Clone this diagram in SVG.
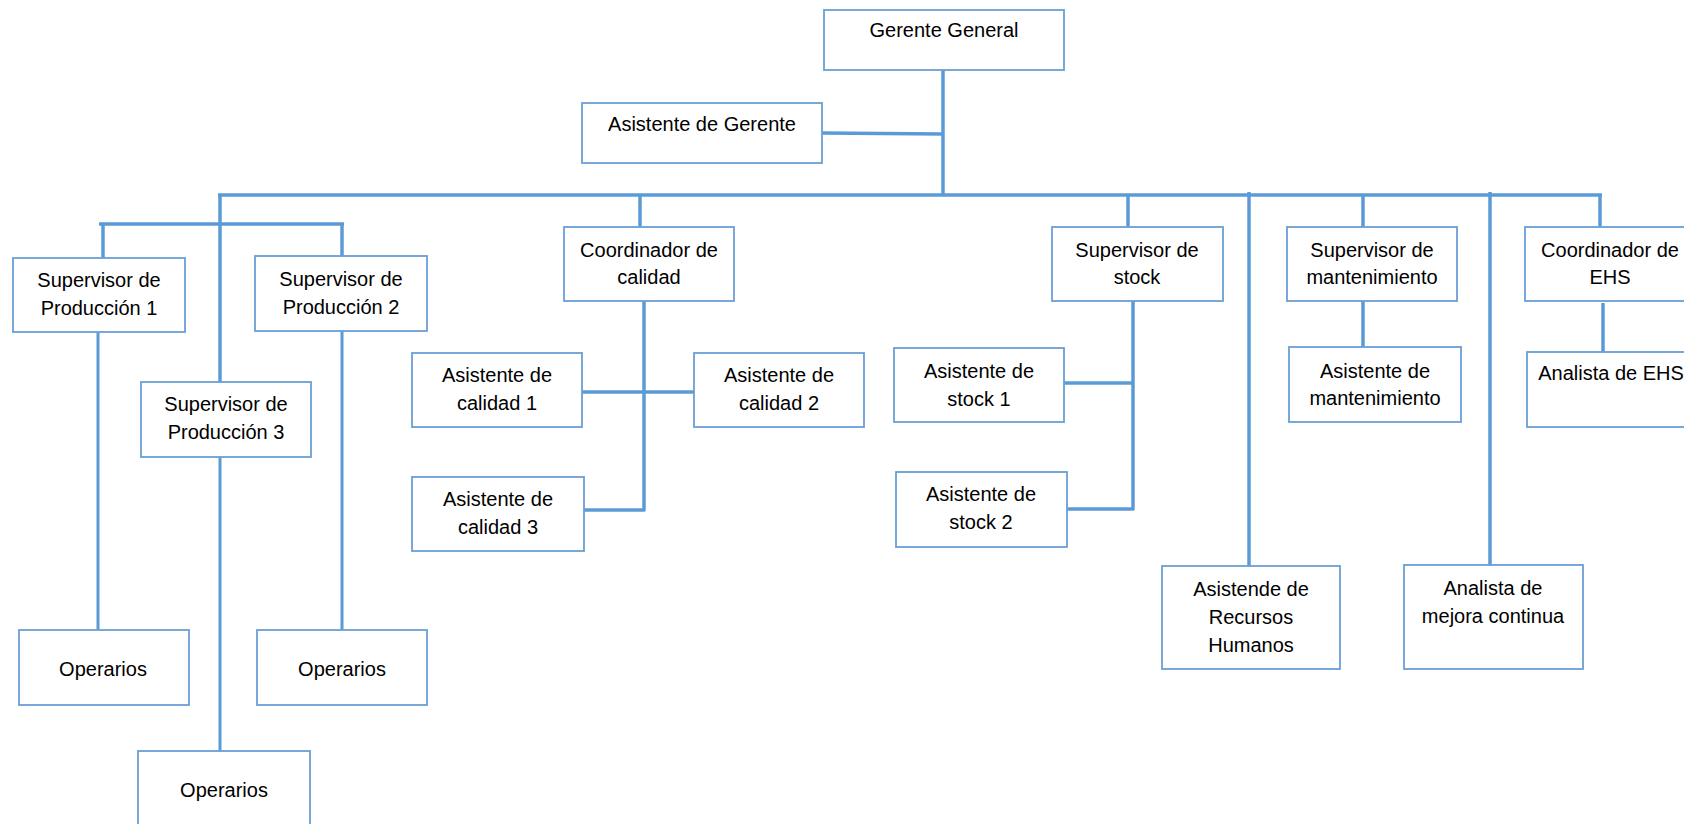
<svg xmlns="http://www.w3.org/2000/svg" width="1684" height="824" viewBox="0 0 1684 824">
<style>
.box{fill:#ffffff;stroke:#6A9FD6;stroke-width:1.8}
.t{font-family:"Liberation Sans",Arial,sans-serif;font-size:20px;fill:#000;text-anchor:middle}
.c{stroke:#5B9BD5;stroke-width:3.5;fill:none;stroke-linecap:butt}
.c2{stroke:#5B9BD5;stroke-width:3;fill:none}
</style>
<rect width="1684" height="824" fill="#ffffff"/>
<g id="connectors">
<line class="c" x1="943" y1="70" x2="943" y2="195"/>
<line class="c" x1="822" y1="133" x2="943" y2="134"/>
<line class="c" x1="218" y1="195" x2="1602" y2="195"/>
<line class="c" x1="220" y1="195" x2="220" y2="382"/>
<line class="c" x1="99" y1="224" x2="344" y2="224"/>
<line class="c" x1="103" y1="224" x2="103" y2="258"/>
<line class="c" x1="342" y1="224" x2="342" y2="256"/>
<line class="c2" x1="98" y1="332" x2="98" y2="630"/>
<line class="c2" x1="342" y1="331" x2="342" y2="630"/>
<line class="c2" x1="220" y1="457" x2="220" y2="751"/>
<line class="c" x1="640" y1="195" x2="640" y2="227"/>
<line class="c" x1="644" y1="301" x2="644" y2="511"/>
<line class="c" x1="582" y1="392" x2="694" y2="392"/>
<line class="c" x1="584" y1="510" x2="645" y2="510"/>
<line class="c" x1="1128" y1="195" x2="1128" y2="227"/>
<line class="c" x1="1133" y1="301" x2="1133" y2="510"/>
<line class="c" x1="1064" y1="383" x2="1133" y2="383"/>
<line class="c" x1="1067" y1="509" x2="1134" y2="509"/>
<line class="c" x1="1249" y1="192" x2="1249" y2="566"/>
<line class="c" x1="1363" y1="195" x2="1363" y2="227"/>
<line class="c" x1="1363" y1="301" x2="1363" y2="347"/>
<line class="c" x1="1490" y1="192" x2="1490" y2="565"/>
<line class="c" x1="1600" y1="195" x2="1600" y2="227"/>
<line class="c" x1="1603" y1="303" x2="1603" y2="352"/>
</g>
<g id="gerente-general"><rect class="box" x="824" y="10" width="240" height="60"/><text class="t" x="944" y="37">Gerente General</text></g>
<g id="asistente-gerente"><rect class="box" x="582" y="103" width="240" height="60"/><text class="t" x="702" y="131">Asistente de Gerente</text></g>
<g id="sup-prod-1"><rect class="box" x="13" y="258" width="172" height="74"/><text class="t" x="99" y="287">Supervisor de</text><text class="t" x="99" y="315">Producción 1</text></g>
<g id="sup-prod-2"><rect class="box" x="255" y="256" width="172" height="75"/><text class="t" x="341" y="286">Supervisor de</text><text class="t" x="341" y="314">Producción 2</text></g>
<g id="sup-prod-3"><rect class="box" x="141" y="382" width="170" height="75"/><text class="t" x="226" y="411">Supervisor de</text><text class="t" x="226" y="439">Producción 3</text></g>
<g id="coord-calidad"><rect class="box" x="564" y="227" width="170" height="74"/><text class="t" x="649" y="257">Coordinador de</text><text class="t" x="649" y="284">calidad</text></g>
<g id="asist-calidad-1"><rect class="box" x="412" y="353" width="170" height="74"/><text class="t" x="497" y="382">Asistente de</text><text class="t" x="497" y="410">calidad 1</text></g>
<g id="asist-calidad-2"><rect class="box" x="694" y="353" width="170" height="74"/><text class="t" x="779" y="382">Asistente de</text><text class="t" x="779" y="410">calidad 2</text></g>
<g id="asist-calidad-3"><rect class="box" x="412" y="477" width="172" height="74"/><text class="t" x="498" y="506">Asistente de</text><text class="t" x="498" y="534">calidad 3</text></g>
<g id="sup-stock"><rect class="box" x="1052" y="227" width="171" height="74"/><text class="t" x="1137" y="257">Supervisor de</text><text class="t" x="1137" y="284">stock</text></g>
<g id="asist-stock-1"><rect class="box" x="894" y="348" width="170" height="74"/><text class="t" x="979" y="378">Asistente de</text><text class="t" x="979" y="406">stock 1</text></g>
<g id="asist-stock-2"><rect class="box" x="896" y="472" width="171" height="75"/><text class="t" x="981" y="501">Asistente de</text><text class="t" x="981" y="529">stock 2</text></g>
<g id="sup-mant"><rect class="box" x="1287" y="227" width="170" height="74"/><text class="t" x="1372" y="257">Supervisor de</text><text class="t" x="1372" y="284">mantenimiento</text></g>
<g id="asist-mant"><rect class="box" x="1289" y="347" width="172" height="75"/><text class="t" x="1375" y="378">Asistente de</text><text class="t" x="1375" y="405">mantenimiento</text></g>
<g id="coord-ehs"><rect class="box" x="1525" y="227" width="171" height="74"/><text class="t" x="1610" y="257">Coordinador de</text><text class="t" x="1610" y="284">EHS</text></g>
<g id="analista-ehs"><rect class="box" x="1527" y="352" width="171" height="75"/><text class="t" x="1611" y="380">Analista de EHS</text></g>
<g id="asist-rrhh"><rect class="box" x="1162" y="566" width="178" height="103"/><text class="t" x="1251" y="596">Asistende de</text><text class="t" x="1251" y="624">Recursos</text><text class="t" x="1251" y="652">Humanos</text></g>
<g id="analista-mejora"><rect class="box" x="1404" y="565" width="179" height="104"/><text class="t" x="1493" y="595">Analista de</text><text class="t" x="1493" y="623">mejora continua</text></g>
<g id="operarios-1"><rect class="box" x="19" y="630" width="170" height="75"/><text class="t" x="103" y="676">Operarios</text></g>
<g id="operarios-2"><rect class="box" x="257" y="630" width="170" height="75"/><text class="t" x="342" y="676">Operarios</text></g>
<g id="operarios-3"><rect class="box" x="138" y="751" width="172" height="80"/><text class="t" x="224" y="797">Operarios</text></g>
</svg>
